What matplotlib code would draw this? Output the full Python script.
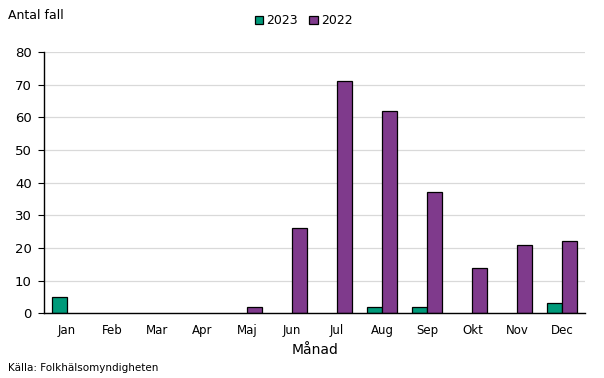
import matplotlib.pyplot as plt
import numpy as np

months = ["Jan", "Feb", "Mar", "Apr", "Maj", "Jun", "Jul", "Aug", "Sep", "Okt", "Nov", "Dec"]
cases_2023 = [5, 0, 0, 0, 0, 0, 0, 2, 2, 0, 0, 3]
cases_2022 = [0, 0, 0, 0, 2, 26, 71, 62, 37, 14, 21, 22]
yticks = [0, 10, 20, 30, 40, 50, 60, 70, 80]

color_2023 = "#009a7a"
color_2022 = "#7f3a8c"


def nonzero(vals):
    # empty months get no bar (not even an edge line)
    a = np.asarray(vals, dtype=float)
    return np.where(a > 0, a, np.nan)


def main():
    fig = plt.figure(figsize=(6.04, 3.78), dpi=100)
    ax = fig.add_axes([0.0733, 0.1712, 0.8952, 0.6912])

    x = np.arange(len(months))
    w = 0.334
    ax.bar(x - w / 2, nonzero(cases_2023), w, color=color_2023, edgecolor="black",
           linewidth=0.9, label="2023", zorder=3)
    ax.bar(x + w / 2, nonzero(cases_2022), w, color=color_2022, edgecolor="black",
           linewidth=0.9, label="2022", zorder=3)

    ax.set_xlim(-0.5, len(months) - 0.5)
    ax.set_ylim(0, 80)
    ax.set_yticks(yticks)
    ax.set_xticks(x)
    ax.set_xticklabels(months, fontsize=8.5)
    ax.tick_params(axis="y", labelsize=9.5, length=4, direction="out", pad=5)
    ax.tick_params(axis="x", length=0, pad=8)
    ax.yaxis.grid(True, color="#d9d9d9", linewidth=0.9, zorder=0)
    ax.set_axisbelow(True)
    for s in ["top", "right"]:
        ax.spines[s].set_visible(False)
    ax.spines["bottom"].set_linewidth(1.0)
    ax.spines["left"].set_linewidth(1.0)
    ax.spines["bottom"].set_zorder(4)

    ax.set_xlabel("Månad", fontsize=10, labelpad=4)

    fig.text(0.014, 0.960, "Antal fall", fontsize=9, ha="left", va="center")
    fig.text(0.013, 0.027, "Källa: Folkhälsomyndigheten", fontsize=7.5, ha="left", va="center")

    fig.legend(loc="center", bbox_to_anchor=(0.503, 0.945), ncol=2, frameon=False,
               fontsize=9, handlelength=0.7, handleheight=0.7, handletextpad=0.25,
               columnspacing=0.9)

    fig.savefig("out.png", dpi=100)
    plt.close(fig)


if __name__ == "__main__":
    main()
